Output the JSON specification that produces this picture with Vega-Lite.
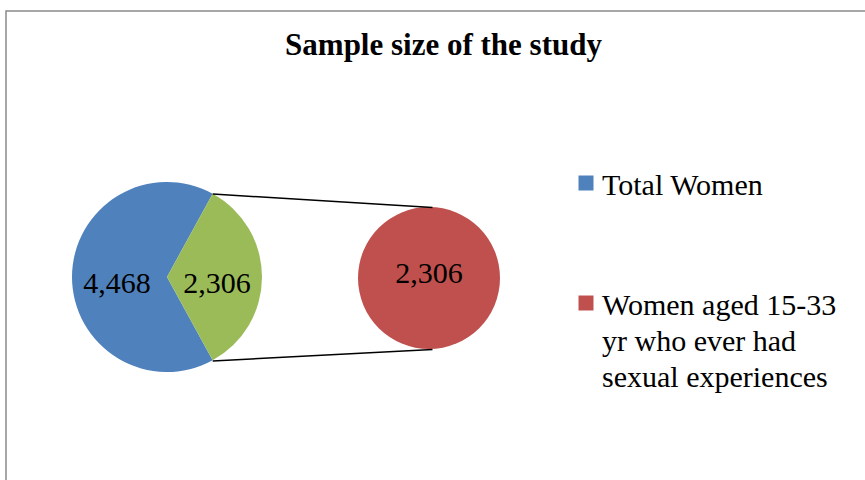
{
  "$schema": "https://vega.github.io/schema/vega-lite/v6.json",
  "width": 865,
  "height": 480,
  "autosize": {"type": "none"},
  "padding": 0,
  "background": "white",
  "config": {
    "view": {"stroke": null},
    "font": "Liberation Serif",
    "legend": {"labelFont": "Liberation Serif"},
    "style": {"guide-label": {"lineHeight": 36, "dy": 3}}
  },
  "title": {
    "text": "Sample size of the study",
    "font": "Liberation Serif",
    "fontSize": 31,
    "fontWeight": "bold",
    "color": "black",
    "anchor": "middle",
    "dx": 11,
    "dy": 32,
    "offset": -54,
    "baseline": "alphabetic"
  },
  "data": {
    "values": [
      {"pie": "Primary", "slice": "Total Women", "value": 4468},
      {"pie": "Primary", "slice": "Other", "value": 2306},
      {"pie": "Secondary", "slice": "Women aged 15-33 yr who ever had sexual experiences", "value": 2306}
    ]
  },
  "layer": [
    {
      "transform": [{"filter": "datum.pie == 'Secondary'"}],
      "mark": {"type": "rect", "filled": false, "color": "#8a8a8a", "strokeWidth": 1.5},
      "encoding": {
        "x": {"datum": 6, "type": "quantitative", "scale": {"domain": [0, 865], "nice": false, "zero": false}, "axis": null},
        "x2": {"datum": 920},
        "y": {"datum": 11, "type": "quantitative", "scale": {"domain": [0, 480], "nice": false, "zero": false, "reverse": true}, "axis": null},
        "y2": {"datum": 520}
      }
    },
    {
      "transform": [{"filter": "datum.pie == 'Primary'"}],
      "layer": [
        {
          "mark": {"type": "arc", "radius": 95},
          "encoding": {
            "theta": {"field": "value", "type": "quantitative", "stack": true, "scale": {"range": [0.50142, 6.78461]}},
            "order": {"field": "value", "sort": "ascending"},
            "color": {
              "field": "slice",
              "type": "nominal",
              "scale": {
                "domain": ["Total Women", "Other", "Women aged 15-33 yr who ever had sexual experiences"],
                "range": ["#4F81BD", "#9BBB59", "#C0504D"]
              },
              "legend": {
                "title": null,
                "orient": "none",
                "legendX": 571,
                "legendY": 168,
                "padding": 0,
                "values": ["Total Women", "Women aged 15-33 yr who ever had sexual experiences"],
                "symbolType": "square",
                "symbolSize": 225,
                "symbolStrokeWidth": 0,
                "labelFont": "Liberation Serif",
                "labelFontSize": 30,
                "labelColor": "black",
                "labelLimit": 0,
                "labelOffset": 1,
                "rowPadding": 87,
                "labelExpr": "datum.label == 'Total Women' ? datum.label : ['Women aged 15-33', 'yr who ever had', 'sexual experiences']"
              }
            },
            "x": {"datum": 167, "type": "quantitative", "scale": {"domain": [0, 865], "nice": false, "zero": false}, "axis": null},
            "y": {"datum": 277, "type": "quantitative", "scale": {"domain": [0, 480], "nice": false, "zero": false, "reverse": true}, "axis": null}
          }
        },
        {
          "mark": {"type": "text", "radius": 50, "fontSize": 30, "font": "Liberation Serif", "dy": 16, "baseline": "alphabetic", "align": "center", "color": "black"},
          "encoding": {
            "theta": {"field": "value", "type": "quantitative", "stack": true, "scale": {"range": [0.50142, 6.78461]}},
            "order": {"field": "value", "sort": "ascending"},
            "text": {"field": "value", "type": "quantitative", "format": ","},
            "x": {"datum": 167, "type": "quantitative", "scale": {"domain": [0, 865], "nice": false, "zero": false}, "axis": null},
            "y": {"datum": 277, "type": "quantitative", "scale": {"domain": [0, 480], "nice": false, "zero": false, "reverse": true}, "axis": null}
          }
        }
      ]
    },
    {
      "transform": [{"filter": "datum.pie == 'Secondary'"}],
      "layer": [
        {
          "mark": {"type": "arc", "radius": 71},
          "encoding": {
            "theta": {"field": "value", "type": "quantitative", "stack": true},
            "color": {
              "field": "slice",
              "type": "nominal",
              "scale": {
                "domain": ["Total Women", "Other", "Women aged 15-33 yr who ever had sexual experiences"],
                "range": ["#4F81BD", "#9BBB59", "#C0504D"]
              }
            },
            "x": {"datum": 429, "type": "quantitative", "scale": {"domain": [0, 865], "nice": false, "zero": false}, "axis": null},
            "y": {"datum": 278, "type": "quantitative", "scale": {"domain": [0, 480], "nice": false, "zero": false, "reverse": true}, "axis": null}
          }
        },
        {
          "mark": {"type": "text", "fontSize": 30, "font": "Liberation Serif", "dy": 5, "baseline": "alphabetic", "align": "center", "color": "black"},
          "encoding": {
            "text": {"field": "value", "type": "quantitative", "format": ","},
            "x": {"datum": 429, "type": "quantitative", "scale": {"domain": [0, 865], "nice": false, "zero": false}, "axis": null},
            "y": {"datum": 278, "type": "quantitative", "scale": {"domain": [0, 480], "nice": false, "zero": false, "reverse": true}, "axis": null}
          }
        }
      ]
    },
    {
      "transform": [{"filter": "datum.pie == 'Secondary'"}],
      "mark": {"type": "rule", "color": "black", "strokeWidth": 1.5},
      "encoding": {
        "x": {"datum": 212.7, "type": "quantitative", "scale": {"domain": [0, 865], "nice": false, "zero": false}, "axis": null},
        "x2": {"datum": 432.5},
        "y": {"datum": 194, "type": "quantitative", "scale": {"domain": [0, 480], "nice": false, "zero": false, "reverse": true}, "axis": null},
        "y2": {"datum": 207.5}
      }
    },
    {
      "transform": [{"filter": "datum.pie == 'Secondary'"}],
      "mark": {"type": "rule", "color": "black", "strokeWidth": 1.5},
      "encoding": {
        "x": {"datum": 212.7, "type": "quantitative", "scale": {"domain": [0, 865], "nice": false, "zero": false}, "axis": null},
        "x2": {"datum": 432.5},
        "y": {"datum": 361, "type": "quantitative", "scale": {"domain": [0, 480], "nice": false, "zero": false, "reverse": true}, "axis": null},
        "y2": {"datum": 349.5}
      }
    }
  ],
  "resolve": {"scale": {"theta": "independent"}}
}
